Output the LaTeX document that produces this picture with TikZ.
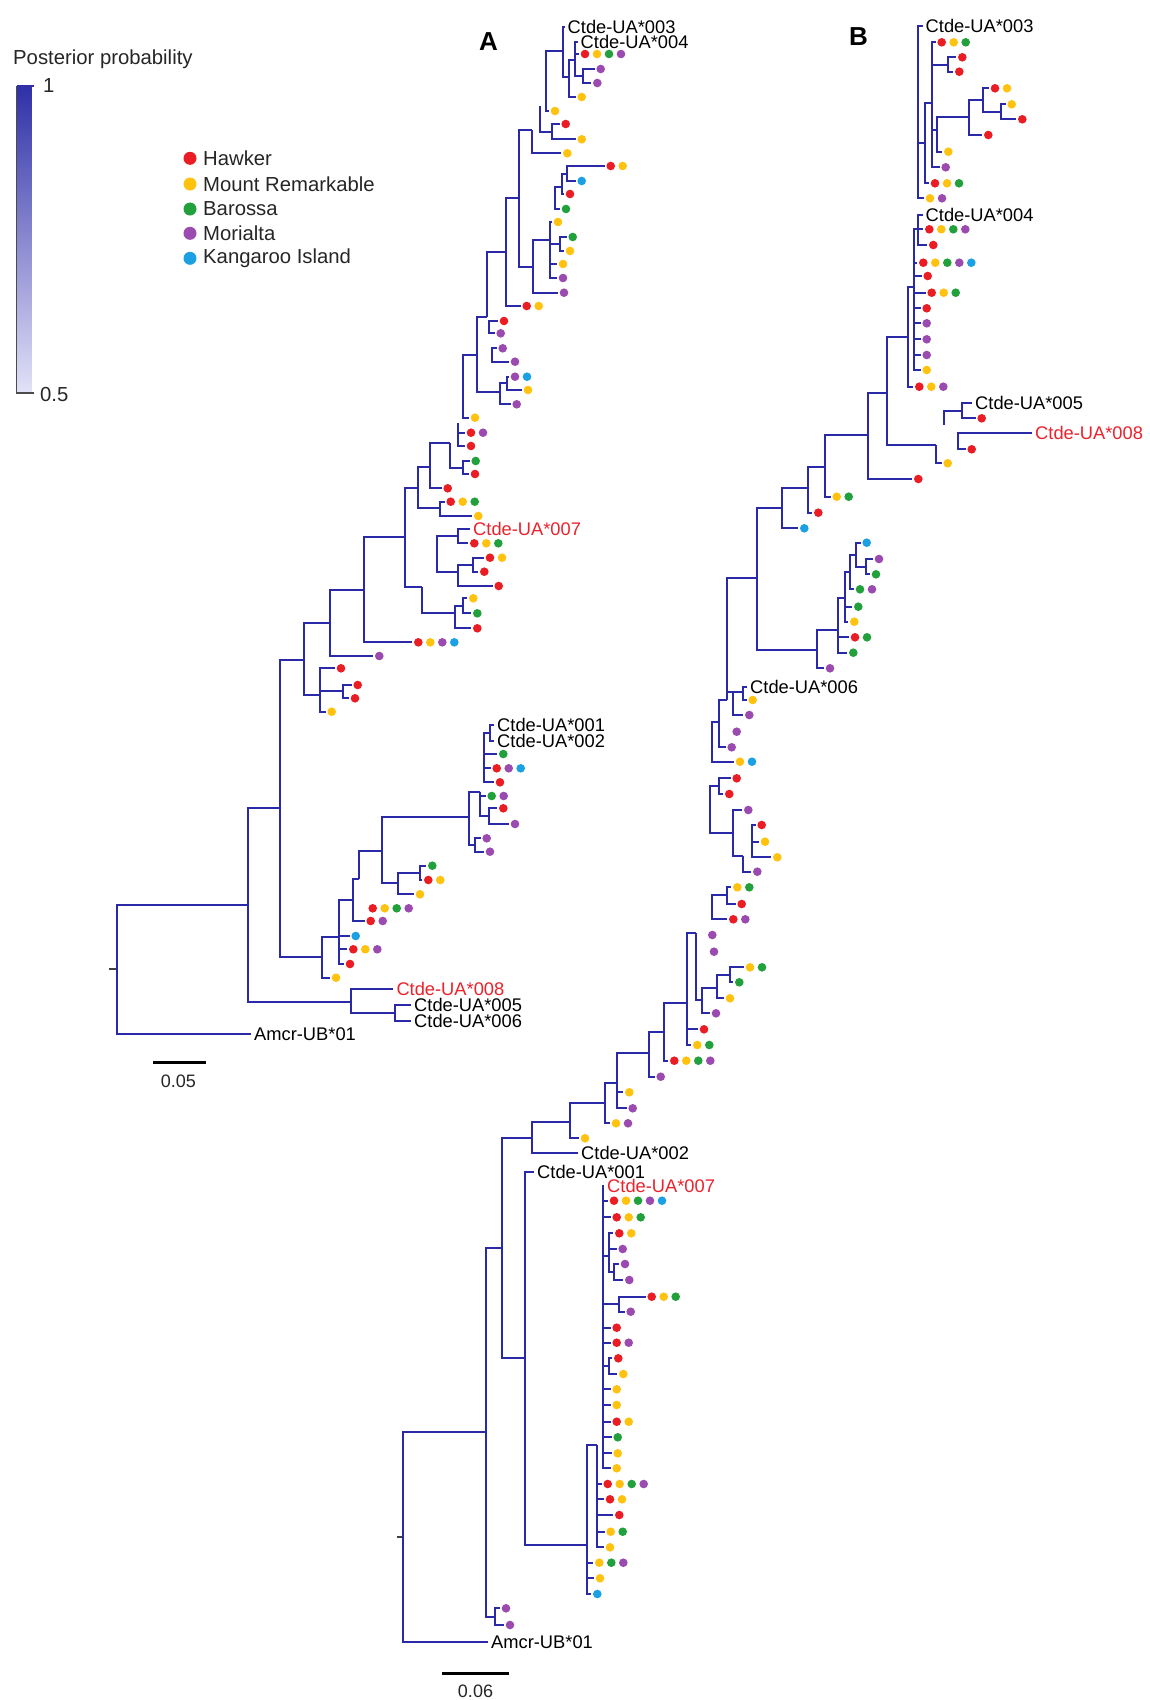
\documentclass[tikz,border=0pt]{standalone}
\usepackage{fontspec}
\setmainfont{Liberation Sans}
\pgfdeclarelayer{bg}
\pgfsetlayers{bg,main}
\definecolor{brc}{RGB}{42,42,168}
\definecolor{brlc}{RGB}{178,178,230}
\definecolor{hR}{RGB}{234,28,36}
\definecolor{hY}{RGB}{255,194,14}
\definecolor{hG}{RGB}{34,160,60}
\definecolor{hP}{RGB}{155,75,175}
\definecolor{hB}{RGB}{28,160,228}
\definecolor{labred}{RGB}{236,34,44}
\definecolor{barTop}{RGB}{48,48,168}
\definecolor{barBot}{RGB}{226,226,248}
\tikzset{
  br/.style={draw=brc, line width=2pt},
  brl/.style={draw=brlc, line width=2pt},
  lab/.style={font=\fontsize{18.3}{20}\selectfont, inner sep=0pt, anchor=west},
  legt/.style={font=\fontsize{20.3}{22}\selectfont, inner sep=0pt, anchor=west, text=black!85},
  stub/.style={draw=black!75, line width=2pt},
  sbar/.style={draw=black, line width=2.5pt},
  scl/.style={font=\fontsize{18}{20}\selectfont, inner sep=0pt, text=black!85},
  panel/.style={font=\bfseries\fontsize{26}{28}\selectfont, inner sep=0pt},
}
\newcommand\tnode[3]{\coordinate (#1) at (#2,#3);}
\newcommand\tedge[2]{\draw[br] (#1) |- (#2);}
\newcommand\tedgel[2]{\begin{pgfonlayer}{bg}\draw[brl] (#1) |- (#2);\end{pgfonlayer}}
\newcommand\tleaf[5]{\coordinate (#1) at ({#3-6},#4);
  \draw[br] (#2) |- (#1);
  \foreach \cc [count=\ii] in {#5} {\fill[fill=\cc] (#1) ++({\ii*12-6},0) circle[radius=4.3];}}
\newcommand\tleafl[5]{\coordinate (#1) at ({#3-6},#4);
  \begin{pgfonlayer}{bg}\draw[brl] (#2) |- (#1);\end{pgfonlayer}
  \foreach \cc [count=\ii] in {#5} {\fill[fill=\cc] (#1) ++({\ii*12-6},0) circle[radius=4.3];}}
\newcommand\tlab[6]{\coordinate (#1) at (#3,#4);
  \draw[br] (#2) |- (#1);
  \node[lab,text=#5] (#1t) at ([xshift=3pt]#1) {#6};}
\begin{document}
\begin{tikzpicture}[x=1pt,y=-1pt]
\useasboundingbox (0,0) rectangle (1149,1700);
\fill[white] (0,0) rectangle (1149,1700);

% ---------- legend ----------
\node[legt] (pp) at (13,59) {Posterior probability};
\shade[top color=barTop, bottom color=barBot] (16.5,86) rectangle (31.5,393);
\draw[black!70, line width=1.2pt] (16.5,86) -- (16.5,393) -- (34,393);
\draw[barTop, line width=2pt] (16.5,86) -- (34,86);
\node[legt] (one) at (43,86) {1};
\node[legt] (half) at (40,395) {0.5};
\foreach \cc/\tt/\yy [count=\k] in {hR/Hawker/158.3, hY/Mount Remarkable/184, hG/Barossa/209, hP/Morialta/233.3, hB/Kangaroo Island/258.3}{
  \fill[fill=\cc] (190,\yy) circle[radius=6.5];
  \node[legt] (leg\k) at (203,\yy) {\tt};
}

\node[panel] (pA) at (488.5,41.5) {A};
\node[panel] (pB) at (858.5,36.5) {B};

% ================= TREE A =================
\tnode{A0}{117.3}{969}
\coordinate (As) at (109,969);
\draw[stub] (As) -- (A0);
\tnode{NB}{248.3}{905} \tedge{A0}{NB}
\tlab{Aam}{A0}{251}{1034}{black}{Amcr-UB*01}
\tnode{N8}{350.7}{1002} \tedge{NB}{N8}
\tlab{A8}{N8}{393.3}{988.5}{labred}{Ctde-UA*008}
\tnode{N56}{395}{1013} \tedge{N8}{N56}
\tlab{A5}{N56}{411}{1004.7}{black}{Ctde-UA*005}
\tlab{A6}{N56}{411}{1021.3}{black}{Ctde-UA*006}
\tnode{NA1}{280}{808} \tedge{NB}{NA1}
\tnode{NL}{321.7}{957} \tedge{NA1}{NL}
\tnode{L1}{339.3}{937} \tedge{NL}{L1}
\tleaf{al1}{NL}{336}{977.7}{hY}
\tnode{L2}{353.3}{900} \tedge{L1}{L2}
\tleaf{al2}{L1}{355.7}{936}{hB}
\tleaf{al3}{L1}{353.3}{949.3}{hR,hY,hP}
\tleaf{al4}{L1}{350}{964}{hR}
\tnode{L3}{359.3}{879} \tedge{L2}{L3}
\tleaf{al5}{L2}{370.7}{921}{hR,hP}
\tnode{L4}{381.7}{850.7} \tedge{L3}{L4}
\tleafl{al6}{L3}{372.7}{908.3}{hR,hY,hG,hP}
\tnode{L5}{469.3}{817} \tedge{L4}{L5}
\tnode{L6}{398.3}{883} \tedge{L4}{L6}
\tnode{L7}{420}{872.7} \tedge{L6}{L7}
\tleaf{al7}{L6}{420}{894.3}{hY}
\tleaf{al8}{L7}{432.3}{865.7}{hG}
\tleaf{al9}{L7}{428.3}{880}{hR,hY}
\tnode{a1}{480}{791.7} \tedge{L5}{a1}
\tnode{a4}{475}{845} \tedge{L5}{a4}
\tleaf{al10}{a4}{486.7}{838.3}{hP}
\tleaf{al11}{a4}{490}{851.7}{hP}
\tnode{a2}{484}{761} \tedgel{a1}{a2}
\tleaf{al12}{a1}{491.7}{796}{hG,hP}
\tnode{a3}{489}{816} \tedge{a1}{a3}
\tleaf{al13}{a3}{503.3}{808.3}{hR}
\tleaf{al14}{a3}{515}{824}{hP}
\tnode{a5}{490}{733} \tedge{a2}{a5}
\tlab{A1}{a5}{494}{725}{black}{Ctde-UA*001}
\tlab{A2}{a5}{494}{741}{black}{Ctde-UA*002}
\tleaf{al15}{a2}{503.3}{754}{hG}
\tleaf{al16}{a2}{496.7}{768.3}{hR,hP,hB}
\tleaf{al17}{a2}{500}{782.3}{hR}

\tnode{U0}{304.3}{660} \tedge{NA1}{U0}
\tnode{U1}{330}{622.7} \tedge{U0}{U1}
\tnode{s1}{320}{695} \tedge{U0}{s1}
\tleaf{al18}{s1}{341}{668.3}{hR}
\tnode{s2}{343.3}{691} \tedge{s1}{s2}
\tleaf{al19}{s1}{331.7}{711.7}{hY}
\tleaf{al20}{s2}{357.7}{685}{hR}
\tleaf{al21}{s2}{355}{698.3}{hR}
\tnode{U2}{364.3}{590} \tedge{U1}{U2}
\tleaf{al22}{U1}{379.3}{656}{hP}
\tnode{U3}{405}{536.7} \tedge{U2}{U3}
\tleaf{al23}{U2}{418.3}{642.3}{hR,hY,hP,hB}
\tnode{U4}{418.3}{488} \tedge{U3}{U4}
\tnode{U5}{421.7}{586.7} \tedge{U3}{U5}
\tnode{U5a}{436.7}{556.7} \tedgel{U5}{U5a}
\tnode{U5b}{455}{613} \tedge{U5}{U5b}
\tnode{U5c}{458.3}{536} \tedge{U5a}{U5c}
\tnode{U5d}{458.3}{572} \tedge{U5a}{U5d}
\tlab{A7}{U5c}{470}{529.3}{labred}{Ctde-UA*007}
\tleaf{al24}{U5c}{474.3}{543.3}{hR,hY,hG}
\tnode{U5e}{473.3}{564.7} \tedge{U5d}{U5e}
\tleaf{al25}{U5d}{498.7}{586}{hR}
\tleaf{al26}{U5e}{490}{557.7}{hR,hY}
\tleaf{al27}{U5e}{484.3}{571.7}{hR}
\tnode{U5f}{463.3}{606} \tedge{U5b}{U5f}
\tleaf{al28}{U5b}{477.3}{628.3}{hR}
\tleaf{al29}{U5f}{473.3}{598.3}{hY}
\tleaf{al30}{U5f}{477.3}{613.3}{hG}
\tnode{U6}{430}{466.7} \tedge{U4}{U6}
\tnode{U4b}{440}{508.3} \tedge{U4}{U4b}
\tleaf{al31}{U4b}{450.7}{501.7}{hR,hY,hG}
\tleaf{al32}{U4b}{478.3}{516}{hY}
\tnode{U7}{450}{443.3} \tedge{U6}{U7}
\tleaf{al33}{U6}{447.7}{488.3}{hR}
\tnode{U8}{458.3}{423} \tedgel{U7}{U8}
\tnode{U7b}{463.3}{467.5} \tedge{U7}{U7b}
\tleaf{al34}{U7b}{475.7}{461}{hG}
\tleaf{al35}{U7b}{475}{474}{hR}
\tnode{U8b}{463.3}{386.7} \tedgel{U8}{U8b}
\tnode{U9}{476.7}{355} \tedge{U8b}{U9}
\tleaf{al36}{U8b}{475}{417.7}{hY}
\tleaf{al37}{U8}{471}{432.7}{hR,hP}
\tleaf{al38}{U8}{471}{446}{hR}
\tnode{U10}{486.7}{316.7} \tedge{U9}{U10}
\tnode{U11}{500}{391.7} \tedge{U9}{U11}
\tnode{U11b}{506.7}{383} \tedge{U11}{U11b}
\tleaf{al39}{U11}{516.7}{404.3}{hP}
\tleaf{al40}{U11b}{515}{376.7}{hP,hB}
\tleaf{al41}{U11b}{528}{390}{hY}
\tnode{T0}{506}{251.7} \tedge{U10}{T0}
\tnode{U10a}{489.3}{327} \tedgel{U10}{U10a}
\tleaf{al42}{U10a}{504}{321}{hR}
\tleaf{al43}{U10a}{500.7}{333.3}{hP}
\tnode{U10b}{491.7}{355} \tedgel{U10}{U10b}
\tleaf{al44}{U10b}{502.7}{348.3}{hP}
\tleaf{al45}{U10b}{515}{361.7}{hP}
\tnode{T1}{519.3}{198.3} \tedge{T0}{T1}
\tleaf{al46}{T0}{526.7}{306}{hR,hY}
\tnode{T2}{531.7}{130} \tedge{T1}{T2}
\tnode{T3}{533.3}{266.7} \tedge{T1}{T3}
\tnode{T4}{550}{240} \tedge{T3}{T4}
\tleaf{al47}{T3}{564}{292.7}{hP}
\tnode{T5}{555}{200} \tedgel{T4}{T5}
\tleaf{al48}{T4}{558}{222}{hY}
\tnode{T6}{560}{244} \tedge{T4}{T6}
\tleaf{al49}{T4}{563}{264}{hY}
\tleaf{al50}{T4}{563}{278}{hP}
\tleaf{al51}{T6}{572.7}{237}{hG}
\tleaf{al52}{T6}{570}{251}{hY}
\tnode{T7}{561.7}{187} \tedge{T5}{T7}
\tleaf{al53}{T5}{566}{209}{hG}
\tnode{T8}{566.7}{173.5} \tedge{T7}{T8}
\tleaf{al54}{T7}{570}{194}{hR}
\tleaf{al55}{T8}{610.7}{166}{hR,hY}
\tleaf{al56}{T8}{581.7}{181}{hB}
\tnode{T9}{540}{106} \tedgel{T2}{T9}
\tleaf{al57}{T2}{567.3}{153.3}{hY}
\tnode{T10}{545.5}{81} \tedgel{T9}{T10}
\tnode{T11}{552}{132} \tedge{T9}{T11}
\tleaf{al58}{T11}{565.7}{124}{hR}
\tleaf{al59}{T11}{581.7}{139.3}{hY}
\tnode{T12}{562.7}{51} \tedge{T10}{T12}
\tleaf{al60}{T10}{555}{111}{hY}
\tlab{A3}{T12}{564.5}{26.7}{black}{Ctde-UA*003}
\tnode{T13}{569.3}{77} \tedge{T12}{T13}
\tnode{T14}{575}{60} \tedge{T13}{T14}
\tleaf{al61}{T13}{581.7}{97}{hY}
\tlab{A4}{T14}{577.5}{42}{black}{Ctde-UA*004}
\tleaf{al62}{T14}{585}{54}{hR,hY,hG,hP}
\tnode{T15}{583}{76} \tedge{T14}{T15}
\tleaf{al63}{T15}{600.7}{69}{hP}
\tleaf{al64}{T15}{597.3}{83}{hP}

\coordinate (sa1) at (153.3,1062.7); \coordinate (sa2) at (206,1062.7);
\draw[sbar] (sa1) -- (sa2);
\node[scl] (salab) at (178.3,1081) {0.05};

% ================= TREE B =================
\tnode{B0}{402.7}{1536.7}
\coordinate (Bs) at (396.7,1536.7);
\draw[stub] (Bs) -- (B0);
\tnode{NB1}{486}{1431.7} \tedge{B0}{NB1}
\tlab{Bam}{B0}{488}{1641.7}{black}{Amcr-UB*01}
\tnode{N002}{501.7}{1248} \tedge{NB1}{N002}
\tnode{PP}{495}{1616.7} \tedge{NB1}{PP}
\tleaf{bl1}{PP}{506}{1608.3}{hP}
\tleaf{bl2}{PP}{510}{1625}{hP}
\tnode{S2}{531.7}{1137.5} \tedge{N002}{S2}
\tnode{N001}{524.5}{1358} \tedge{N002}{N001}
\tnode{S1}{570}{1121.7} \tedge{S2}{S1}
\tlab{B2}{S2}{578}{1152.5}{black}{Ctde-UA*002}
\tnode{Q1}{605}{1103} \tedge{S1}{Q1}
\tleaf{bl3}{S1}{585}{1138.3}{hY}
\tnode{Q2}{617.3}{1083} \tedge{Q1}{Q2}
\tleaf{bl4}{Q1}{616}{1123.3}{hY,hP}
\tnode{Q3}{649.3}{1053.3} \tedge{Q2}{Q3}
\tleaf{bl5}{Q2}{629.3}{1092.3}{hY}
\tleaf{bl6}{Q2}{632.7}{1108.3}{hP}
\tnode{Q4}{664}{1031.7} \tedge{Q3}{Q4}
\tleaf{bl7}{Q3}{660.7}{1076.7}{hP}
\tnode{Q5}{686.7}{1002.7} \tedge{Q4}{Q5}
\tleaf{bl8}{Q4}{674.3}{1060.7}{hR,hY,hG,hP}
\tnode{Q6}{696}{933.3} \tedge{Q5}{Q6}
\tleaf{bl9}{Q5}{704}{1029.3}{hR}
\tleaf{bl10}{Q5}{697.3}{1045}{hY,hG}
\tnode{Q7}{702}{868.3} \tedgel{Q6}{Q7}
\tnode{Q8}{701.7}{1000} \tedge{Q6}{Q8}
\tnode{Q8a}{717.3}{988} \tedge{Q8}{Q8a}
\tleaf{bl11}{Q8}{716}{1013.3}{hP}
\tnode{Q8b}{730}{975} \tedge{Q8a}{Q8b}
\tleaf{bl12}{Q8a}{730}{998.3}{hY}
\tleaf{bl13}{Q8b}{750}{967.3}{hY,hG}
\tleaf{bl14}{Q8b}{739.3}{982.3}{hG}
\tnode{R3}{711.7}{743} \tedgel{Q7}{R3}
\tnode{R4}{710}{810} \tedgel{Q7}{R4}
\tnode{Q10}{711.7}{903} \tedgel{Q7}{Q10}
\tleafl{bl15}{Q7}{712.3}{935}{hP}
\tleafl{bl16}{Q7}{714}{951.7}{hP}
\tnode{Q10a}{726.7}{895} \tedge{Q10}{Q10a}
\tleaf{bl17}{Q10}{733.3}{919.3}{hR,hP}
\tleaf{bl18}{Q10a}{737.3}{887.3}{hY,hG}
\tleaf{bl19}{Q10a}{741.7}{904}{hR}
\tnode{RR}{719.3}{786} \tedge{R4}{RR}
\tnode{Q11}{733.3}{833} \tedge{R4}{Q11}
\tleaf{bl20}{RR}{736.7}{778.3}{hR}
\tleaf{bl21}{RR}{729.3}{794}{hR}
\tleaf{bl22}{Q11}{748.3}{810}{hP}
\tnode{Q12}{743.3}{856} \tedge{Q11}{Q12}
\tnode{Q13}{751.7}{841.7} \tedgel{Q12}{Q13}
\tleaf{bl23}{Q12}{757.3}{871.7}{hP}
\tleaf{bl24}{Q13}{761.7}{825}{hR}
\tleaf{bl25}{Q13}{765}{841.7}{hY}
\tleaf{bl26}{Q13}{777.3}{857.3}{hY}
\tnode{R2}{719.3}{721.7} \tedge{R3}{R2}
\tleaf{bl27}{R3}{740}{761.7}{hY,hB}
\tnode{R0}{726.7}{700} \tedge{R2}{R0}
\tleaf{bl29}{R2}{731.7}{747.3}{hP}
\tnode{Bup}{756.7}{578.3} \tedge{R0}{Bup}
\tnode{R1}{733.3}{691.7} \tedge{R0}{R1}
\tleafl{bl28}{R0}{736.7}{731.7}{hP}
\tnode{R1a}{743.3}{691.7} \tedge{R1}{R1a}
\tleaf{bl30}{R1}{749.3}{715}{hP}
\tlab{B6}{R1a}{747}{686.7}{black}{Ctde-UA*006}
\tleaf{bl31}{R1a}{752.7}{700}{hY}
\tnode{BU1}{781.7}{507.7} \tedge{Bup}{BU1}
\tnode{BC}{817}{650} \tedge{Bup}{BC}
\tnode{BC1}{838.3}{630} \tedge{BC}{BC1}
\tleaf{bl32}{BC}{830}{668.3}{hP}
\tnode{BC2}{845}{598.3} \tedge{BC1}{BC2}
\tleaf{bl33}{BC1}{855}{637.3}{hR,hG}
\tleaf{bl34}{BC1}{853.3}{652.7}{hG}
\tnode{BC3}{850}{571.7} \tedge{BC2}{BC3}
\tleaf{bl35}{BC2}{858.3}{606.7}{hG}
\tleaf{bl36}{BC2}{854.3}{621.7}{hY}
\tnode{BC4}{856}{555} \tedge{BC3}{BC4}
\tleaf{bl37}{BC3}{860}{589.3}{hG,hP}
\tleaf{bl38}{BC4}{866.7}{542.7}{hB}
\tnode{BC5}{866}{566.7} \tedge{BC4}{BC5}
\tleaf{bl39}{BC5}{879}{559}{hP}
\tleaf{bl40}{BC5}{876}{574.3}{hG}
\tnode{BU2}{808.3}{488.3} \tedge{BU1}{BU2}
\tleaf{bl41}{BU1}{804.3}{528.3}{hB}
\tnode{BU3}{825}{466.7} \tedge{BU2}{BU3}
\tleaf{bl42}{BU2}{818.3}{512.7}{hR}
\tnode{BU4}{868.3}{435} \tedge{BU3}{BU4}
\tleaf{bl43}{BU3}{836.7}{496.7}{hY,hG}
\tnode{BU5}{886.7}{392.7} \tedge{BU4}{BU5}
\tleaf{bl44}{BU4}{918.3}{479}{hR}
\tnode{Bt1}{908.3}{336.7} \tedge{BU5}{Bt1}
\tnode{BM}{936}{445} \tedge{BU5}{BM}
\tnode{BM1}{944}{425} \tedgel{BM}{BM1}
\tleaf{bl45}{BM}{947.7}{463.3}{hY}
\tnode{BM2}{961.7}{410.7} \tedge{BM1}{BM2}
\tnode{BM3}{957.7}{441} \tedgel{BM1}{BM3}
\tlab{B5}{BM2}{972}{403.3}{black}{Ctde-UA*005}
\tleaf{bl46}{BM2}{981.7}{418.3}{hR}
\tlab{B8}{BM3}{1032}{433.3}{labred}{Ctde-UA*008}
\tleaf{bl47}{BM3}{971.7}{449.3}{hR}
\tnode{Bt2}{914}{286.7} \tedge{Bt1}{Bt2}
\tleaf{bl48}{Bt1}{919.3}{386.7}{hR,hY,hP}
\tnode{Bt3}{918.3}{121.7} \tedgel{Bt2}{Bt3}
\tnode{Bt004}{918.3}{229} \tedge{Bt2}{Bt004}
\tleaf{bl49}{Bt2}{923.3}{262.7}{hR,hY,hG,hP,hB}
\tleaf{bl50}{Bt2}{927.7}{276}{hR}
\tleaf{bl51}{Bt2}{931.7}{292.7}{hR,hY,hG}
\tleaf{bl52}{Bt2}{926.7}{308.3}{hR}
\tleaf{bl53}{Bt2}{926.7}{323.3}{hP}
\tleaf{bl54}{Bt2}{926.7}{339.3}{hP}
\tleaf{bl55}{Bt2}{926.7}{355}{hP}
\tleaf{bl56}{Bt2}{926.7}{370}{hY}
\tlab{B4}{Bt004}{922.5}{215}{black}{Ctde-UA*004}
\tleaf{bl57}{Bt004}{929.3}{229.3}{hR,hY,hG,hP}
\tleaf{bl58}{Bt004}{933.3}{245}{hR}
\tlab{B3}{Bt3}{922.5}{26}{black}{Ctde-UA*003}
\tnode{Bt4}{925}{143} \tedge{Bt3}{Bt4}
\tleaf{bl60}{Bt3}{930}{198.3}{hY,hP}
\tnode{Bt5}{931.7}{103} \tedge{Bt4}{Bt5}
\tleaf{bl59}{Bt4}{935}{183.3}{hR,hY,hG}
\tleaf{bl61}{Bt5}{941.7}{42.3}{hR,hY,hG}
\tnode{Bt6}{948.3}{64.5} \tedge{Bt5}{Bt6}
\tnode{Bt7}{936.7}{130} \tedge{Bt5}{Bt7}
\tleaf{bl62}{Bt5}{945.7}{167.3}{hP}
\tleaf{bl63}{Bt6}{962.3}{57.3}{hR}
\tleaf{bl64}{Bt6}{959.3}{71.7}{hR}
\tnode{Bt8}{969.3}{117.3} \tedge{Bt7}{Bt8}
\tleaf{bl65}{Bt7}{948.3}{151.7}{hY}
\tnode{Bt9}{983.3}{100} \tedge{Bt8}{Bt9}
\tleaf{bl66}{Bt8}{988.3}{135}{hR}
\tleaf{bl67}{Bt9}{995}{88.3}{hR,hY}
\tnode{Bt10}{1000.7}{112} \tedge{Bt9}{Bt10}
\tleaf{bl68}{Bt10}{1011.7}{104.3}{hY}
\tleaf{bl69}{Bt10}{1022.3}{119.3}{hR}

\tlab{B1}{N001}{534}{1172}{black}{Ctde-UA*001}
\tnode{P3}{587.3}{1545} \tedge{N001}{P3}
\tnode{P2}{596.7}{1445} \tedge{P3}{P2}
\tleaf{bl70}{P3}{599.3}{1562.7}{hY,hG,hP}
\tleaf{bl71}{P3}{600}{1578.3}{hY}
\tleaf{bl72}{P3}{597.3}{1594}{hB}
\tnode{P1}{602.7}{1350} \tedgel{P2}{P1}
\tleaf{bl73}{P2}{607.7}{1484}{hR,hY,hG,hP}
\tleaf{bl74}{P2}{610}{1499.3}{hR,hY}
\tleaf{bl75}{P2}{619.3}{1515}{hR}
\tleaf{bl76}{P2}{610.7}{1531.7}{hY,hG}
\tleaf{bl77}{P2}{610}{1547.3}{hY}
\tlab{B7}{P1}{604}{1185.5}{labred}{Ctde-UA*007}
\tleaf{bl78}{P1}{614}{1200.7}{hR,hY,hG,hP,hB}
\tleaf{bl79}{P1}{616.7}{1217.3}{hR,hY,hG}
\tnode{P1a}{608.5}{1256} \tedge{P1}{P1a}
\tleaf{bl80}{P1a}{619.3}{1233.3}{hR,hY}
\tleaf{bl81}{P1a}{622.7}{1249}{hP}
\tnode{P1d}{614}{1272} \tedge{P1a}{P1d}
\tleaf{bl82}{P1d}{625}{1264}{hP}
\tleaf{bl83}{P1d}{629.3}{1280}{hP}
\tnode{P1b}{619}{1304} \tedge{P1}{P1b}
\tleaf{bl84}{P1b}{651.7}{1296.7}{hR,hY,hG}
\tleaf{bl85}{P1b}{630.7}{1311.7}{hP}
\tleaf{bl86}{P1}{616.7}{1327.7}{hR}
\tleaf{bl87}{P1}{616.7}{1342.7}{hR,hP}
\tnode{P1c}{609}{1366} \tedge{P1}{P1c}
\tleaf{bl88}{P1c}{618.3}{1358.3}{hR}
\tleaf{bl89}{P1c}{623.3}{1374}{hY}
\tleaf{bl90}{P1}{616.7}{1389.3}{hY}
\tleaf{bl91}{P1}{616.7}{1405}{hY}
\tleaf{bl92}{P1}{616.7}{1421.7}{hR,hY}
\tleaf{bl93}{P1}{617.7}{1437.3}{hG}
\tleaf{bl94}{P1}{617.7}{1453.3}{hY}
\tleaf{bl95}{P1}{616.7}{1468.3}{hY}

\coordinate (sb1) at (441.7,1673.3); \coordinate (sb2) at (509.3,1673.3);
\draw[sbar] (sb1) -- (sb2);
\node[scl] (sblab) at (475.5,1691) {0.06};
\end{tikzpicture}
\end{document}
